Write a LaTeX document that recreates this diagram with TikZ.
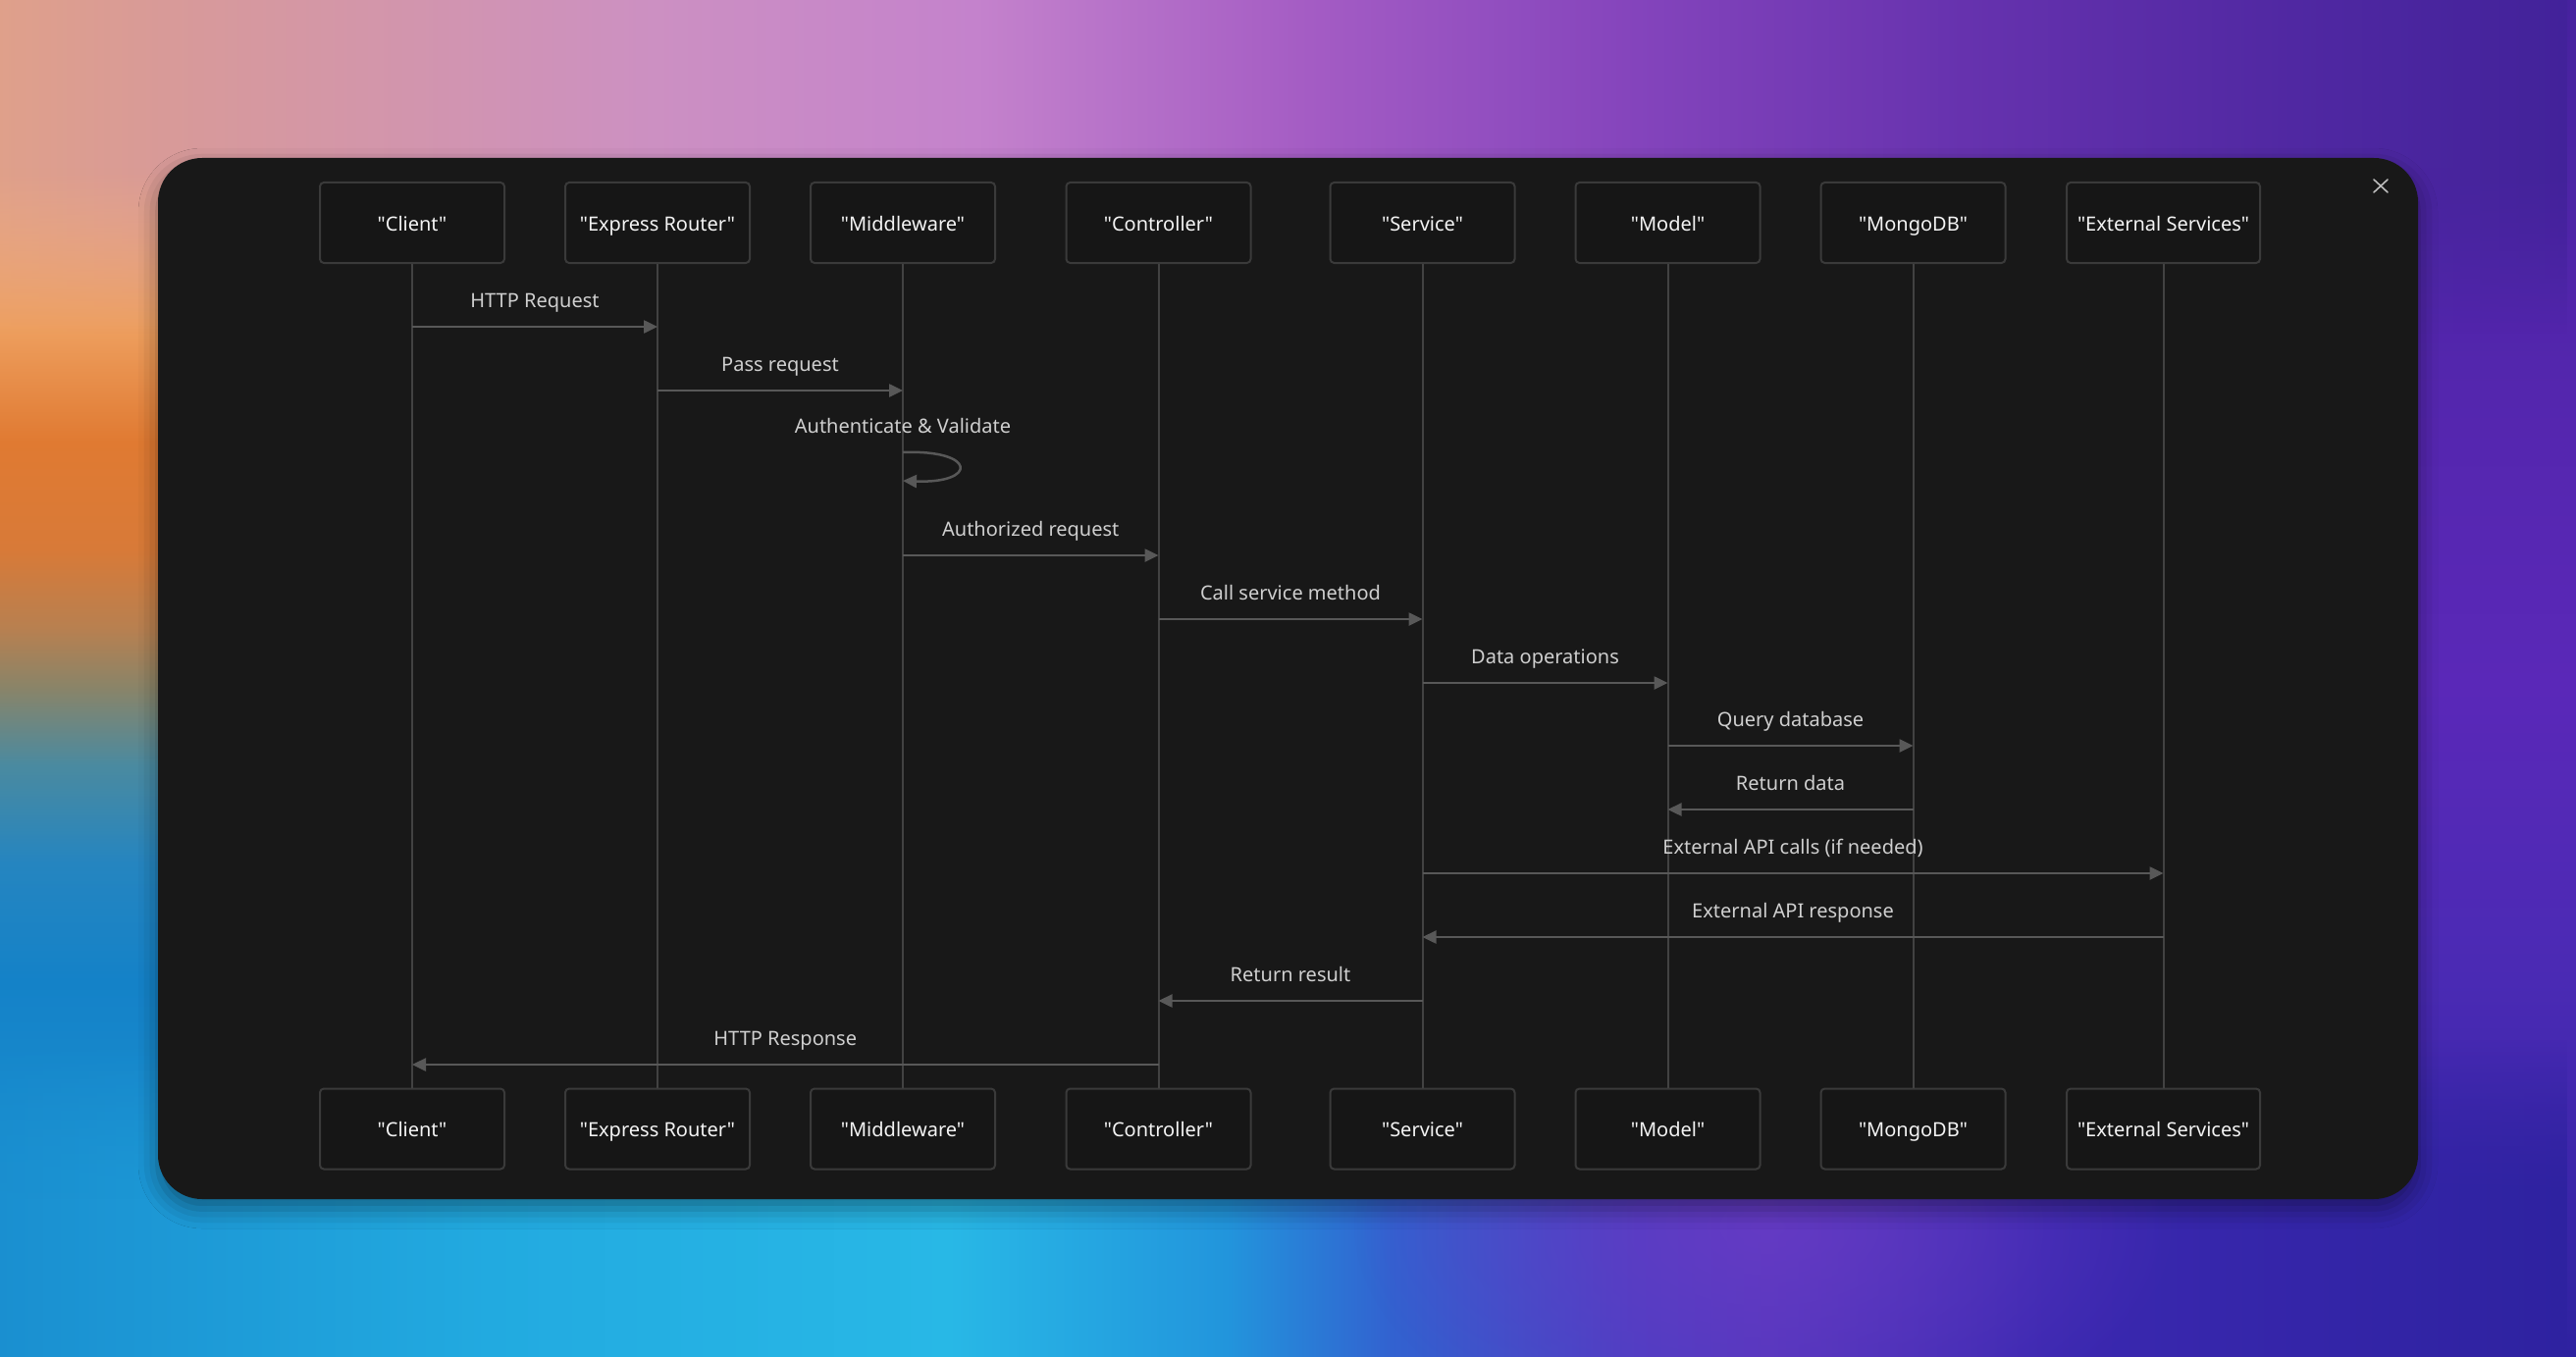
\documentclass[tikz,border=0pt]{standalone}
\usepackage{fontspec}
\setmainfont{Noto Sans}[Ligatures=TeXOff]
\usetikzlibrary{arrows.meta,fadings,shadows.blur}

% background colours
\definecolor{lA}{HTML}{D4928C}\definecolor{lB}{HTML}{E9A488}\definecolor{lC}{HTML}{F2AD7A}
\definecolor{lD}{HTML}{EEA060}\definecolor{lE}{HTML}{E07A32}\definecolor{lF}{HTML}{D87A38}
\definecolor{lG}{HTML}{B88050}\definecolor{lH}{HTML}{8A8468}\definecolor{lI}{HTML}{4A8AA0}
\definecolor{lJ}{HTML}{2585C0}\definecolor{lK}{HTML}{1482C8}\definecolor{lL}{HTML}{1A8ECF}
\definecolor{lM}{HTML}{20A0D6}
\definecolor{tA}{HTML}{DFA08A}\definecolor{tB}{HTML}{D89A98}\definecolor{tC}{HTML}{CC90C2}
\definecolor{tD}{HTML}{C482CC}\definecolor{tE}{HTML}{A45CC4}\definecolor{tF}{HTML}{8444BC}
\definecolor{tG}{HTML}{6632AE}\definecolor{tH}{HTML}{5028A2}\definecolor{tI}{HTML}{42229A}
\definecolor{rA}{HTML}{46229E}\definecolor{rB}{HTML}{5426AE}\definecolor{rC}{HTML}{5A28B8}
\definecolor{rD}{HTML}{4A2AB4}\definecolor{rE}{HTML}{2E22A0}
\definecolor{bA}{HTML}{1A8FD0}\definecolor{bB}{HTML}{22AAE0}\definecolor{bC}{HTML}{28B8E6}
\definecolor{bD}{HTML}{2295DC}\definecolor{bE}{HTML}{3262D0}\definecolor{bF}{HTML}{4A3EC2}
\definecolor{bG}{HTML}{5236BC}\definecolor{bH}{HTML}{3A28B0}\definecolor{bI}{HTML}{2E22A0}
\definecolor{blobcol}{HTML}{6A3CC6}

% diagram colours
\definecolor{cardbg}{HTML}{181818}
\definecolor{boxfill}{HTML}{161616}
\definecolor{boxline}{HTML}{3A3A3A}
\definecolor{lifecol}{HTML}{424242}
\definecolor{msgcol}{HTML}{585858}
\definecolor{lbltext}{HTML}{CFCFCF}
\definecolor{boxtext}{HTML}{F4F4F4}
\definecolor{xcol}{HTML}{BDBDBD}

\pgfdeclareverticalshading{leftsh}{100bp}{color(0bp)=(lM); color(25bp)=(lM); color(31.62bp)=(lL);
  color(38.85bp)=(lK); color(43.18bp)=(lJ); color(46.8bp)=(lI); color(49.69bp)=(lH);
  color(51.86bp)=(lG); color(54.75bp)=(lF); color(58.73bp)=(lE); color(63.07bp)=(lD);
  color(67.77bp)=(lC); color(71.38bp)=(lB); color(75bp)=(lA); color(100bp)=(lA)}
\pgfdeclarehorizontalshading{topsh}{100bp}{color(0bp)=(tA); color(25bp)=(tA); color(28.24bp)=(tB);
  color(37.76bp)=(tC); color(44.05bp)=(tD); color(50.52bp)=(tE); color(56.9bp)=(tF);
  color(63.29bp)=(tG); color(69.67bp)=(tH); color(75bp)=(tI); color(100bp)=(tI)}
\pgfdeclareverticalshading{rightsh}{100bp}{color(0bp)=(rE); color(25bp)=(rE); color(38.85bp)=(rD);
  color(49.69bp)=(rC); color(60.54bp)=(rB); color(75bp)=(rA); color(100bp)=(rA)}
\pgfdeclarehorizontalshading{bottomsh}{100bp}{color(0bp)=(bA); color(25bp)=(bA); color(34.58bp)=(bB);
  color(43.51bp)=(bC); color(48.92bp)=(bD); color(52.12bp)=(bE); color(56.9bp)=(bF);
  color(59.46bp)=(bG); color(64.87bp)=(bH); color(75bp)=(bI); color(100bp)=(bI)}

\tikzfading[name=fadebelow, top color=transparent!0, bottom color=transparent!100, middle color=transparent!0]
\tikzfading[name=fadeabove, top color=transparent!100, bottom color=transparent!0, middle color=transparent!0]
\tikzfading[name=blobfade, inner color=transparent!25, outer color=transparent!100]

\tikzset{
  actor/.style={draw=boxline, line width=2pt, fill=boxfill, rounded corners=4pt,
    minimum width=188pt, minimum height=82pt, inner sep=0pt,
    text=boxtext, font=\fontsize{20}{24}\selectfont, text height=16.6pt, text depth=0pt},
  wideactor/.style={actor, minimum width=197pt},
  life/.style={draw=lifecol, line width=2pt},
  msg/.style={draw=msgcol, line width=2.5pt, -{Triangle[length=14pt,width=13pt]}},
  lbl/.style={midway, anchor=base, yshift=20pt, text=lbltext, font=\fontsize{20}{24}\selectfont, inner sep=0pt},
  looplbl/.style={anchor=base, text=lbltext, font=\fontsize{20}{24}\selectfont, inner sep=0pt},
  closemark/.style={draw=xcol, line width=1.6pt, line cap=round}
}

\begin{document}
\begin{tikzpicture}[x=1pt,y=-1pt]
\useasboundingbox (0,0) rectangle (2625,1383);

% background
\fill[rC] (0,0) rectangle (2625,1383);
\shade[shading=leftsh] (0,0) rectangle (230,1383);
\shade[shading=rightsh] (2395,0) rectangle (2625,1383);
\shade[shading=topsh, path fading=fadebelow] (0,0) rectangle (2625,340);
\shade[shading=bottomsh, path fading=fadeabove] (0,1060) rectangle (2625,1383);
\fill[blobcol, path fading=blobfade] (1800,1250) ellipse (420 and 240);

% card
\fill[cardbg, rounded corners=45pt,
  blur shadow={shadow xshift=0pt, shadow yshift=-10pt, shadow blur radius=20pt, shadow opacity=40}]
  (161,161) rectangle (2464,1222);

% close mark
\draw[closemark] (2419,183) -- (2433,196) (2433,183) -- (2419,196);

% participants (top)
\node[actor] (tC) at (420,227) {"Client"};
\node[actor] (tR) at (670,227) {"Express Router"};
\node[actor] (tM) at (920,227) {"Middleware"};
\node[actor] (tK) at (1180.5,227) {"Controller"};
\node[actor] (tS) at (1449.5,227) {"Service"};
\node[actor] (tD) at (1699.5,227) {"Model"};
\node[actor] (tG) at (1949.5,227) {"MongoDB"};
\node[wideactor] (tE) at (2204.5,227) {"External Services"};
% participants (bottom)
\node[actor] (bC) at (420,1150.5) {"Client"};
\node[actor] (bR) at (670,1150.5) {"Express Router"};
\node[actor] (bM) at (920,1150.5) {"Middleware"};
\node[actor] (bK) at (1180.5,1150.5) {"Controller"};
\node[actor] (bS) at (1449.5,1150.5) {"Service"};
\node[actor] (bD) at (1699.5,1150.5) {"Model"};
\node[actor] (bG) at (1949.5,1150.5) {"MongoDB"};
\node[wideactor] (bE) at (2204.5,1150.5) {"External Services"};

% lifelines
\foreach \p in {C,R,M,K,S,D,G,E} \draw[life] (t\p) -- (b\p);

% message rows
\coordinate (y1) at (0,333);
\coordinate (y2) at (0,398);
\coordinate (y3a) at (0,461);
\coordinate (y3b) at (0,490);
\coordinate (y3l) at (0,441);
\coordinate (y4) at (0,566);
\coordinate (y5) at (0,631);
\coordinate (y6) at (0,696);
\coordinate (y7) at (0,760);
\coordinate (y8) at (0,825);
\coordinate (y9) at (0,890);
\coordinate (y10) at (0,955);
\coordinate (y11) at (0,1020);
\coordinate (y12) at (0,1085);

\draw[msg] (tC |- y1) -- node[lbl] (m1) {HTTP Request} (tR |- y1);
\draw[msg] (tR |- y2) -- node[lbl] (m2) {Pass request} (tM |- y2);
\node[looplbl] (m3) at (tM |- y3l) {Authenticate \& Validate};
\draw[msg] (tM |- y3a) .. controls +(76,-3) and +(76,3) .. (tM |- y3b);
\draw[msg] (tM |- y4) -- node[lbl] (m4) {Authorized request} (tK |- y4);
\draw[msg] (tK |- y5) -- node[lbl] (m5) {Call service method} (tS |- y5);
\draw[msg] (tS |- y6) -- node[lbl] (m6) {Data operations} (tD |- y6);
\draw[msg] (tD |- y7) -- node[lbl] (m7) {Query database} (tG |- y7);
\draw[msg] (tG |- y8) -- node[lbl] (m8) {Return data} (tD |- y8);
\draw[msg] (tS |- y9) -- node[lbl] (m9) {External API calls (if needed)} (tE |- y9);
\draw[msg] (tE |- y10) -- node[lbl] (m10) {External API response} (tS |- y10);
\draw[msg] (tS |- y11) -- node[lbl] (m11) {Return result} (tK |- y11);
\draw[msg] (tK |- y12) -- node[lbl] (m12) {HTTP Response} (tC |- y12);
\end{tikzpicture}
\end{document}
